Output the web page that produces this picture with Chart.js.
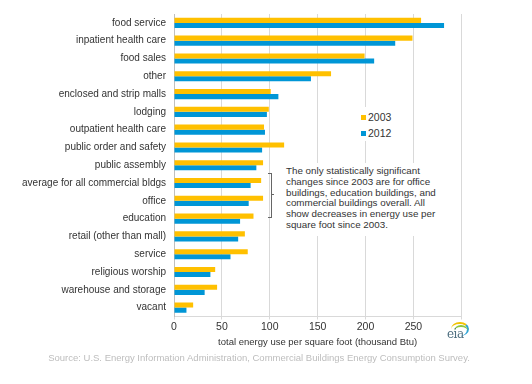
<!DOCTYPE html>
<html>
<head>
<meta charset="utf-8">
<script src="https://cdn.jsdelivr.net/npm/chart.js@4/dist/chart.umd.min.js"></script>
<style>
  html, body { margin: 0; padding: 0; background: #fff; }
  #wrap { position: relative; width: 532px; height: 384px; overflow: hidden; font-family: "Liberation Sans", Arial, sans-serif; }
  #wrap canvas { position: absolute; left: 0; top: 0; }
  .abs { position: absolute; }
  #legend { left: 358px; top: 107px; width: 44px; height: 34px; background: #fff; font-size: 10.5px; color: #333; }
  .lg { position: absolute; left: 10px; line-height: 12px; white-space: nowrap; }
  .sw { position: absolute; left: -7px; top: 4px; width: 5px; height: 5px; }
  #note { left: 282px; top: 163px; width: 174px; height: 73px; background: #fff; font-size: 9.8px; line-height: 10.8px; color: #333; padding: 3px 0 0 4px; box-sizing: border-box; white-space: nowrap; }
  #bracket { left: 268px; top: 173px; width: 3px; height: 43px; border: 1px solid #666; border-left: none; }
  #bracket2 { left: 272px; top: 194px; width: 2px; height: 0; border-top: 1px solid #666; }
  #source { left: 0; top: 352px; width: 518px; text-align: center; font-size: 9.5px; color: #bdbdbd; white-space: nowrap; }
  #eia { left: 446px; top: 321px; width: 24px; height: 22px; }
  #eia .t { position: absolute; left: 1px; top: 6px; font-family: "DejaVu Serif", serif; font-size: 12px; color: #4f6f80; letter-spacing: -0.5px; }
  #eia .a1 { position: absolute; left: 5px; top: 1px; width: 18px; height: 14px; border-radius: 50%; border-top: 2px solid #f2c200; border-right: 2px solid #2aa3d8; box-sizing: border-box; }
  #eia .a2 { position: absolute; left: 8px; top: 4px; width: 14px; height: 12px; border-radius: 50%; border-top: 2px solid #8cc63f; box-sizing: border-box; }
</style>
</head>
<body>
<div id="wrap">
  <canvas id="c" width="532" height="384"></canvas>
  <div id="legend" class="abs">
    <div class="lg" style="top:4px;"><span class="sw" style="background:#FFC000"></span>2003</div>
    <div class="lg" style="top:20px;"><span class="sw" style="background:#0096D6"></span>2012</div>
  </div>
  <div id="bracket" class="abs"></div>
  <div id="bracket2" class="abs"></div>
  <div id="note" class="abs">The only statistically significant<br>changes since 2003 are for office<br>buildings, education buildings, and<br>commercial buildings overall. All<br>show decreases in energy use per<br>square foot since 2003.</div>
  <div id="source" class="abs">Source: U.S. Energy Information Administration, Commercial Buildings Energy Consumption Survey.</div>
  <div id="eia" class="abs"><span class="a1"></span><span class="a2"></span><span class="t">eia</span></div>
</div>
<script>
const categories = [
  "food service", "inpatient health care", "food sales", "other",
  "enclosed and strip malls", "lodging", "outpatient health care",
  "public order and safety", "public assembly",
  "average for all commercial bldgs", "office", "education",
  "retail (other than mall)", "service", "religious worship",
  "warehouse and storage", "vacant"
];
const values2003 = [258, 249, 199, 164, 101, 99, 94, 115, 93, 91, 93, 83, 74, 77, 43, 45, 20];
const values2012 = [282, 231, 209, 143, 109, 97, 95, 92, 86, 80, 78, 69, 67, 59, 38, 32, 13];
const xTicks = [0, 50, 100, 150, 200, 250, 300];
const xTitle = "total energy use per square foot (thousand Btu)";

new Chart(document.getElementById("c"), {
  type: "bar",
  data: {
    labels: categories,
    datasets: [
      { label: "2003", data: values2003, backgroundColor: "#FFC000", borderWidth: 0 },
      { label: "2012", data: values2012, backgroundColor: "#0096D6", borderWidth: 0 }
    ]
  },
  options: {
    indexAxis: "y",
    responsive: false,
    animation: false,
    devicePixelRatio: 1,
    layout: { padding: { top: 4, right: 70.7, bottom: 31.5, left: 0 } },
    datasets: { bar: { categoryPercentage: 0.57, barPercentage: 1.0 } },
    plugins: { legend: { display: false }, tooltip: { enabled: false } },
    scales: {
      x: {
        min: 0, max: 300,
        afterBuildTicks: (s) => { s.ticks = xTicks.map(v => ({ value: v })); },
        afterFit: (s) => { s.height = 36; },
        grid: { color: "#d9d9d9", lineWidth: 1, tickLength: 3 },
        border: { color: "#d9d9d9" },
        ticks: {
          padding: 1.5,
          color: "#333",
          font: { family: "Liberation Sans", size: 10.5 },
          callback: (v) => v === 300 ? "" : v
        },
        title: {
          display: true, text: xTitle, color: "#333",
          font: { family: "Liberation Sans", size: 9.5 },
          padding: { top: 0, bottom: 4.5 }
        }
      },
      y: {
        afterFit: (s) => { s.width = 174; },
        grid: { display: false, drawTicks: false },
        border: { color: "#bfbfbf" },
        ticks: {
          padding: 8,
          color: "#333",
          font: { family: "Liberation Sans", size: 10 }
        }
      }
    }
  }
});
</script>
</body>
</html>
